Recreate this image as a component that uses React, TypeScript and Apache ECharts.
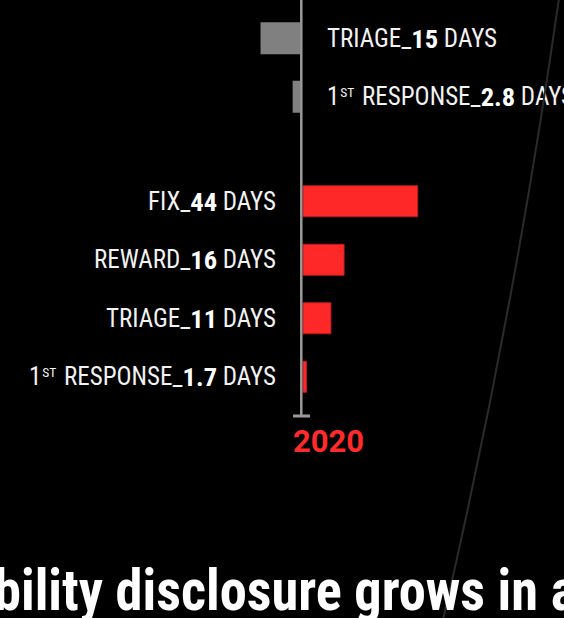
import React, { useEffect, useRef } from "react";
import * as echarts from "echarts";

const categories2020 = ["FIX", "REWARD", "TRIAGE", "1ST RESPONSE"];
const days2020 = [44, 16, 11, 1.7];
const categories2019 = ["TRIAGE", "1ST RESPONSE"];
const days2019 = [15, 2.8];
const yearLabel = "2020";
const headline = "bility disclosure grows in a";

function labelRich(cat: string, v: number) {
  const num = String(v);
  if (cat.startsWith("1ST")) {
    return `{n|1}{s|ST}{n| ${cat.slice(4)}_}{b|${num}}{n| DAYS}`;
  }
  return `{n|${cat}_}{b|${num}}{n| DAYS}`;
}

const rich = {
  n: { fontFamily: "Roboto", fontStyle: "condensed", fontSize: 25, color: "#f2f2f2", lineHeight: 30 },
  b: { fontFamily: "Roboto", fontStyle: "condensed", fontWeight: "bold", fontSize: 26.5, color: "#ffffff", lineHeight: 30 },
  s: {
    fontFamily: "Roboto",
    fontStyle: "condensed",
    fontSize: 13.5,
    color: "#f2f2f2",
    lineHeight: 16,
    verticalAlign: "top",
    padding: [3, 2, 0, 1],
  },
};

const css = `#root svg text { font-stretch: condensed; }`;

export default function App() {
  const ref = useRef<HTMLDivElement>(null);
  useEffect(() => {
    document.body.style.margin = "0";
    document.body.style.background = "#000";
    const chart = echarts.init(ref.current!, undefined, { renderer: "svg" });
    chart.setOption({
      animation: false,
      backgroundColor: "#000000",
      grid: [
        { left: 37, width: 263, top: 9, height: 117, outerBoundsMode: "none", containLabel: false },
        { left: 302.5, width: 263, top: 172, height: 234, outerBoundsMode: "none", containLabel: false },
      ],
      xAxis: [
        { gridIndex: 0, type: "value", min: 0, max: 100, inverse: true, show: false },
        { gridIndex: 1, type: "value", min: 0, max: 100, show: false },
      ],
      yAxis: [
        {
          gridIndex: 0,
          type: "category",
          data: categories2019,
          inverse: true,
          position: "right",
          axisLine: { show: false },
          axisTick: { show: false },
          splitLine: { show: false },
          axisLabel: {
            margin: 27,
            align: "left",
            formatter: (v: string, i: number) => labelRich(v, days2019[i]),
            rich,
          },
        },
        {
          gridIndex: 1,
          type: "category",
          data: categories2020,
          inverse: true,
          position: "left",
          axisLine: { show: false },
          axisTick: { show: false },
          splitLine: { show: false },
          axisLabel: {
            margin: 26.5,
            align: "right",
            formatter: (v: string, i: number) => labelRich(v, days2020[i]),
            rich,
          },
        },
      ],
      series: [
        {
          type: "bar",
          xAxisIndex: 0,
          yAxisIndex: 0,
          data: days2019,
          barWidth: 32,
          itemStyle: { color: "#808080" },
        },
        {
          type: "bar",
          xAxisIndex: 1,
          yAxisIndex: 1,
          data: days2020,
          barWidth: 32,
          itemStyle: { color: "#ff2828", borderColor: "#b51d1d", borderWidth: 1 },
        },
      ],
      graphic: [
        {
          type: "bezierCurve",
          shape: { x1: 559, y1: -2, cpx1: 515, cpy1: 309, x2: 443, y2: 620 },
          style: { stroke: "#2a2a2a", lineWidth: 2, fill: "none" },
          z: 1,
        },
        {
          type: "line",
          shape: { x1: 301.3, y1: 0, x2: 301.3, y2: 416 },
          style: { stroke: "#9a9a9a", lineWidth: 2.5 },
          z: 100,
        },
        {
          type: "line",
          shape: { x1: 293, y1: 416, x2: 310, y2: 416 },
          style: { stroke: "#9a9a9a", lineWidth: 3 },
          z: 100,
        },
        {
          type: "text",
          x: 293,
          y: 426,
          style: {
            text: yearLabel,
            font: "normal bold 31px Roboto, sans-serif",
            fill: "#ff2a2a",
            textVerticalAlign: "top",
          },
          z: 100,
        },
        {
          type: "text",
          x: -6,
          y: 562,
          scaleX: 0.955,
          style: {
            text: headline,
            font: "condensed bold 57px Roboto",
            fill: "#ffffff",
            textVerticalAlign: "top",
          },
          z: 100,
        },
      ],
    });
    return () => chart.dispose();
  }, []);
  return (
    <>
      <style>{css}</style>
      <div
        ref={ref}
        style={{ position: "fixed", left: 0, top: 0, width: 564, height: 618, background: "#000" }}
      />
    </>
  );
}
